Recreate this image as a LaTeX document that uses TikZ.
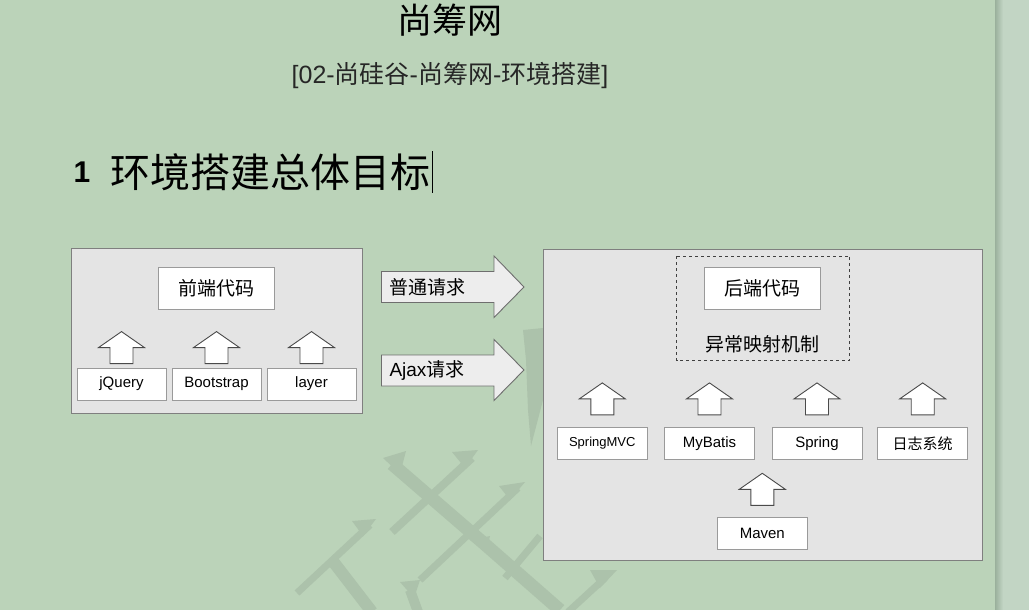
\documentclass[tikz,border=0pt]{standalone}
\usepackage{fontspec}
\setmainfont{Liberation Sans}
\newfontfamily\cjk{Noto Sans CJK SC}
\definecolor{bg}{HTML}{BBD3B9}
\definecolor{wm}{HTML}{ACC2AB}
\definecolor{panel}{HTML}{E4E4E4}
\definecolor{panelline}{HTML}{7F7F7F}
\definecolor{boxline}{HTML}{9A9A9A}
\definecolor{arrline}{HTML}{4A4A4A}
\definecolor{strip}{HTML}{C2D5C4}
\definecolor{stripedge}{HTML}{9AB09C}
\tikzset{
  panelbox/.style={draw=panelline, fill=panel, line width=0.8pt},
  whitebox/.style={draw=boxline, fill=white, line width=0.8pt, inner sep=0pt, font=\fontsize{15}{15}\selectfont},
  cjklabel/.style={font=\cjk\fontsize{19}{19}\selectfont},
  blockarrow/.style={draw=arrline, fill=white, line width=0.9pt, line join=miter},
  rightarrow/.style={draw=arrline!80, fill=white!93!black, line width=0.9pt},
  wmstroke/.style={draw=wm, line cap=butt},
  uparrow/.pic={\draw[blockarrow] (-23,0) -- (0,-16) -- (23,0) -- (11.5,0) -- (11.5,16) -- (-11.5,16) -- (-11.5,0) -- cycle;}
}
\begin{document}
\begin{tikzpicture}[x=1pt,y=-1pt]
\useasboundingbox (0,0) rectangle (1029,610);
\fill[bg] (0,0) rectangle (1029,610);
% right strip
\fill[strip] (995,0) rectangle (1029,610);
\shade[left color=stripedge, right color=strip] (995,0) rectangle (1003,610);

% faint watermark strokes
\begin{scope}[wmstroke]
  \fill[wm] (523,330) -- (543,328) -- (543,400) -- (531,446) -- (528,410) -- (526,360) -- cycle;
  \draw[line width=13pt] (392,464) -- (480,540) -- (560,610);
  \fill[wm] (383,458) -- (406,451) -- (400,474) -- cycle;
  \draw[line width=8pt] (472,458) -- (392,532);
  \fill[wm] (452,452) -- (478,450) -- (465,468) -- cycle;
  \draw[line width=7pt] (518,488) -- (420,580);
  \fill[wm] (499,486) -- (525,482) -- (510,500) -- cycle;
  \draw[line width=7pt] (370,525) -- (297,593);
  \fill[wm] (352,521) -- (376,519) -- (363,536) -- cycle;
  \draw[line width=12pt] (332,560) -- (372,612);
  \draw[line width=10pt] (410,590) -- (418,612);
  \fill[wm] (400,582) -- (420,580) -- (414,598) -- cycle;
  \fill[wm] (470,540) -- (490,536) -- (486,552) -- cycle;
  \draw[line width=7pt] (540,536) -- (505,578);
  \draw[line width=7pt] (605,578) -- (568,612);
  \fill[wm] (590,570) -- (617,570) -- (600,588) -- cycle;
\end{scope}

% titles
\node[font=\cjk\fontsize{35}{35}\selectfont] (title) at (450,20) {尚筹网};
\node[font=\fontsize{25}{25}\selectfont, text=black!85] (sub) at (450,76) {[02-{\cjk 尚硅谷}-{\cjk 尚筹网}-{\cjk 环境搭建}]};
\node[font=\bfseries\fontsize{30}{30}\selectfont, anchor=west] (num) at (70,172) {1};
\node[font=\cjk\fontsize{40}{40}\selectfont, anchor=west, inner sep=0pt] (head) at (110,172) {环境搭建总体目标};
\draw[line width=1pt] ([xshift=2pt]head.east) ++(0,-21) coordinate (c1) -- ++(0,42) coordinate (c2);

% left panel
\draw[panelbox] (71,248) rectangle (362,413);
\node[whitebox, cjklabel, minimum width=116pt, minimum height=42pt] (fe) at (216,288) {前端代码};
\node[whitebox, minimum width=89pt, minimum height=32pt] (jq) at (121.5,384) {jQuery};
\node[whitebox, minimum width=89pt, minimum height=32pt] (bs) at (216.5,384) {Bootstrap};
\node[whitebox, minimum width=89pt, minimum height=32pt] (ly) at (311.5,384) {layer};
\path (jq.north) ++(0,-20) pic {uparrow};
\path (bs.north) ++(0,-20) pic {uparrow};
\path (ly.north) ++(0,-20) pic {uparrow};

% request arrows
\draw[rightarrow] (381.5,271.5) -- (494,271.5) -- (494,256) -- (524,287) -- (494,317.5) -- (494,302.5) -- (381.5,302.5) -- cycle;
\node[cjklabel, anchor=west] (req1) at (386,287) {普通请求};
\draw[rightarrow] (381.5,355) -- (494,355) -- (494,339.5) -- (524,370) -- (494,400.5) -- (494,386) -- (381.5,386) -- cycle;
\node[font=\fontsize{19}{19}\selectfont, anchor=west] (req2) at (386,370) {Ajax{\cjk 请求}};

% right panel
\draw[panelbox] (543,249) rectangle (982.5,560.5);
\draw[dashed, line width=0.9pt, draw=black!75] (676.5,256) rectangle (849.5,360.5);
\node[whitebox, cjklabel, minimum width=116pt, minimum height=42pt] (be) at (762.5,288) {后端代码};
\node[cjklabel] (ex) at (762.5,344) {异常映射机制};
\node[whitebox, font=\fontsize{13}{13}\selectfont, minimum width=90pt, minimum height=32pt] (smvc) at (602.3,443.3) {SpringMVC};
\node[whitebox, minimum width=90pt, minimum height=32pt] (mb) at (709.5,443.3) {MyBatis};
\node[whitebox, minimum width=90pt, minimum height=32pt] (sp) at (817,443.3) {Spring};
\node[whitebox, font=\cjk\fontsize{15}{15}\selectfont, minimum width=90pt, minimum height=32pt] (log) at (922.7,443.3) {日志系统};
\node[whitebox, minimum width=90pt, minimum height=32pt] (mv) at (762.3,533.7) {Maven};
\path (smvc.north) ++(0,-28) pic {uparrow};
\path (mb.north) ++(0,-28) pic {uparrow};
\path (sp.north) ++(0,-28) pic {uparrow};
\path (log.north) ++(0,-28) pic {uparrow};
\path (mv.north) ++(0,-28) pic {uparrow};
\end{tikzpicture}
\end{document}
